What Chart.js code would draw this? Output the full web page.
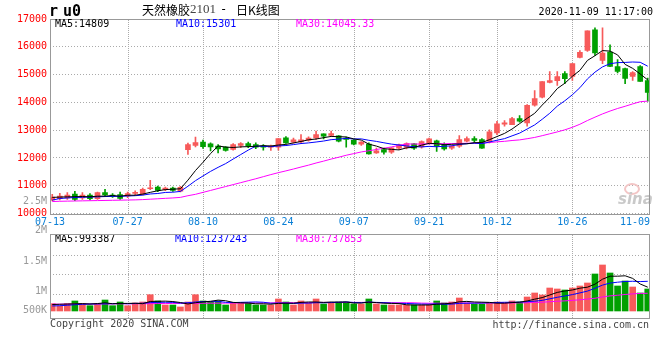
<!DOCTYPE html>
<html>
<head>
<meta charset="utf-8">
<script src="https://cdn.jsdelivr.net/npm/chart.js@4.4.1/dist/chart.umd.min.js"></script>
<style>
    html, body { margin: 0; padding: 0; background: #fff; }
    #wrap { position: relative; width: 660px; height: 360px; }
    canvas { position: absolute; left: 0; top: 0; }
</style>
</head>
<body>
<div id="wrap">
    <canvas id="kChart" width="660" height="360"></canvas>
    <canvas id="volChart" width="660" height="360"></canvas>
</div>
<script>
// Trading days shown (ru0, daily K)
const dates = [
    '07-13','07-14','07-15','07-16','07-17','07-20','07-21','07-22','07-23','07-24',
    '07-27','07-28','07-29','07-30','07-31','08-03','08-04','08-05','08-06','08-07',
    '08-10','08-11','08-12','08-13','08-14','08-17','08-18','08-19','08-20','08-21',
    '08-24','08-25','08-26','08-27','08-28','08-31','09-01','09-02','09-03','09-04',
    '09-07','09-08','09-09','09-10','09-11','09-14','09-15','09-16','09-17','09-18',
    '09-21','09-22','09-23','09-24','09-25','09-28','09-29','09-30','10-09','10-12',
    '10-13','10-14','10-15','10-16','10-19','10-20','10-21','10-22','10-23','10-26',
    '10-27','10-28','10-29','10-30','11-02','11-03','11-04','11-05','11-06','11-09'
];
const tickDates = ['07-13','07-27','08-10','08-24','09-07','09-21','10-12','10-26','11-09'];

// OHLC
const opens = [
    10485,10533,10557,10701,10557,10665,10533,10749,10665,10677,
    10629,10725,10689,10892,10952,10856,10916,10808,12293,12448,
    12570,12508,12430,12389,12305,12448,12520,12484,12424,12389,
    12389,12724,12568,12580,12640,12724,12867,12807,12796,12712,
    12639,12495,12495,12184,12303,12208,12351,12375,12507,12399,
    12519,12615,12459,12351,12423,12603,12699,12663,12591,12900,
    13213,13201,13417,13262,13896,14183,14722,14782,15033,14937,
    15619,15871,16613,15511,15811,15284,15212,14937,15284,14781
];
const closes = [
    10593,10629,10665,10509,10665,10533,10749,10665,10617,10545,
    10713,10749,10868,10928,10832,10916,10832,10940,12484,12556,
    12405,12395,12320,12269,12484,12520,12436,12389,12389,12412,
    12700,12544,12652,12652,12712,12843,12784,12879,12604,12664,
    12495,12567,12148,12256,12208,12363,12471,12519,12351,12591,
    12687,12423,12327,12423,12663,12699,12627,12351,12938,13230,
    13262,13417,13321,13896,14135,14745,14782,14925,14853,15392,
    15799,16577,15775,15775,15296,15117,14865,15069,14757,14362
];
const highs = [
    10689,10725,10749,10797,10749,10713,10773,10868,10713,10773,
    10773,10820,10916,11192,10988,10952,10952,10976,12532,12748,
    12640,12544,12480,12412,12520,12556,12568,12544,12484,12460,
    12700,12772,12712,12843,12760,12963,12867,12963,12807,12748,
    12660,12591,12543,12351,12351,12375,12495,12543,12519,12615,
    12711,12639,12543,12447,12806,12758,12770,12699,13010,13320,
    13345,13465,13525,13920,14422,14745,15104,15104,15104,15392,
    15859,16577,16685,16685,16074,15536,15236,15104,15320,14877
];
const lows = [
    10449,10485,10509,10461,10509,10485,10509,10641,10581,10509,
    10569,10665,10665,10856,10785,10820,10797,10773,12125,12400,
    12340,12250,12180,12245,12281,12365,12365,12329,12281,12269,
    12281,12520,12532,12544,12604,12664,12688,12772,12580,12389,
    12470,12447,12136,12160,12136,12160,12303,12327,12303,12351,
    12495,12232,12280,12303,12375,12579,12543,12339,12543,12840,
    13143,13201,13286,13143,13860,14159,14698,14614,14674,14794,
    15595,15835,15691,15392,15284,15057,14674,14794,14757,14039
];

// Price moving averages
const ma5 = [
    10580,10590,10600,10605,10612,10600,10624,10624,10646,10622,
    10658,10658,10698,10761,10818,10859,10875,10890,11201,11546,
    11843,12156,12432,12389,12375,12398,12406,12420,12444,12429,
    12465,12487,12539,12592,12652,12681,12729,12774,12764,12755,
    12685,12642,12496,12426,12335,12308,12289,12363,12382,12459,
    12524,12514,12476,12490,12505,12507,12548,12553,12656,12769,
    12882,13040,13234,13425,13606,13903,14176,14497,14688,14939,
    15150,15509,15679,15864,15844,15708,15366,15224,15021,14809
];
const ma10 = [
    10480,10540,10560,10575,10585,10590,10600,10610,10615,10617,
    10629,10641,10661,10703,10720,10758,10767,10794,10981,11182,
    11351,11516,11661,11795,11960,12121,12281,12426,12416,12402,
    12431,12446,12480,12518,12541,12573,12608,12657,12678,12703,
    12683,12685,12635,12595,12545,12497,12466,12430,12404,12397,
    12416,12402,12420,12436,12482,12515,12531,12514,12573,12637,
    12694,12794,12893,13040,13188,13392,13608,13865,14057,14273,
    14527,14843,15088,15276,15392,15429,15437,15452,15442,15301
];
const ma30 = [
    10430,10440,10445,10450,10455,10460,10465,10470,10475,10480,
    10485,10490,10500,10515,10530,10545,10560,10580,10640,10690,
    10760,10830,10900,10970,11040,11110,11180,11250,11325,11400,
    11470,11534,11601,11672,11740,11817,11885,11959,12025,12096,
    12155,12216,12258,12303,12349,12397,12451,12504,12500,12501,
    12510,12511,12511,12516,12522,12528,12535,12533,12552,12579,
    12598,12627,12649,12691,12738,12801,12868,12936,13011,13102,
    13212,13346,13467,13584,13687,13779,13859,13944,14024,14045
];

// Volume, in thousands
const volumes = [
    304,208,304,417,304,221,304,458,221,375,
    221,333,375,679,417,250,250,167,375,679,
    417,375,417,250,333,333,333,250,250,250,
    500,375,250,417,333,500,292,333,375,375,
    292,292,500,292,250,250,250,250,250,250,
    250,417,333,375,542,333,292,292,333,375,
    333,417,375,583,750,667,958,917,875,958,
    1042,1167,1542,1917,1583,1042,1250,1000,750,917
];
const volMa5 = [
    270,280,290,300,307,291,310,341,302,316,
    316,322,305,397,405,411,394,353,292,344,
    378,403,453,428,358,342,333,300,300,283,
    317,325,325,358,375,375,358,375,367,375,
    333,333,367,350,325,317,308,258,250,250,
    250,283,300,325,383,400,375,367,358,325,
    325,350,367,417,492,558,667,775,833,875,
    950,992,1117,1325,1450,1450,1467,1358,1125,993
];
const volMa10 = [
    210,220,240,260,280,290,295,300,305,312,
    303,316,323,349,360,363,358,329,344,375,
    394,398,403,360,351,360,368,376,364,321,
    329,329,312,329,329,346,342,350,363,375,
    354,346,371,358,350,325,321,313,300,288,
    283,296,279,288,317,325,329,333,342,354,
    363,363,367,388,408,442,508,571,625,683,
    754,829,946,1079,1163,1200,1229,1238,1225,1237
];
const volMa30 = [
    285,285,285,290,290,290,295,295,295,300,
    300,300,305,305,310,310,315,315,320,320,
    322,324,326,328,330,330,332,333,334,336,
    342,348,346,346,347,356,356,352,357,357,
    359,358,362,349,344,344,344,346,342,328,
    322,324,321,325,332,332,331,332,335,339,
    333,335,339,344,358,364,386,406,422,442,
    467,496,531,585,629,656,689,714,731,738
];

// Styling
const mono = '"DejaVu Sans Mono", "Liberation Mono", monospace';
const upColor = '#f75a5a';
const downColor = '#00a000';
const gridColor = '#aaaaaa';
const frameColor = '#999999';
const candleColors = closes.map((c, i) => c >= opens[i] ? upColor : downColor);

function xy(arr) {
    return arr.map((v, i) => ({ x: i, y: v }));
}

function maLine(arr, color) {
    return {
        type: 'line',
        data: xy(arr),
        borderColor: color,
        borderWidth: 1,
        pointRadius: 0,
        tension: 0
    };
}

// shared x axis: trading-day index
function dayAxis() {
    return {
        type: 'linear',
        offset: false,
        min: -0.3,
        max: dates.length - 0.7,
        ticks: { display: false },
        grid: { display: false, offset: false, drawTicks: false },
        border: { display: false },
        afterFit: s => { s.height = 0; }
    };
}

// vertical lines at the labelled dates (the two ends sit on the frame)
function drawDayGrid(chart) {
    const xs = chart.scales.x;
    const a = chart.chartArea;
    const ctx = chart.ctx;
    ctx.save();
    ctx.strokeStyle = gridColor;
    ctx.lineWidth = 1;
    ctx.setLineDash([1, 1]);
    tickDates.slice(1, -1).forEach(d => {
        const px = Math.round(xs.getPixelForValue(dates.indexOf(d))) + 0.5;
        ctx.beginPath();
        ctx.moveTo(px, a.top + 1);
        ctx.lineTo(px, a.bottom);
        ctx.stroke();
    });
    ctx.restore();
}

function drawFrame(chart) {
    const a = chart.chartArea;
    const ctx = chart.ctx;
    ctx.save();
    ctx.strokeStyle = frameColor;
    ctx.lineWidth = 1;
    ctx.strokeRect(Math.round(a.left) + 0.5, Math.round(a.top) + 0.5,
        Math.round(a.right - a.left) - 1, Math.round(a.bottom - a.top));
    ctx.restore();
}

function txt(ctx, s, x, y, color, align, font) {
    ctx.font = font || ('10px ' + mono);
    ctx.fillStyle = color;
    ctx.textAlign = align || 'left';
    ctx.textBaseline = 'middle';
    ctx.fillText(s, x, y);
}

// page text, frame and date labels for the price chart
const kDecor = {
    id: 'kDecor',
    beforeDatasetsDraw(chart) {
        drawDayGrid(chart);
    },
    afterDraw(chart) {
        const ctx = chart.ctx;
        const a = chart.chartArea;
        ctx.save();
        // sina watermark
        ctx.strokeStyle = '#f3c6c6';
        ctx.lineWidth = 2;
        ctx.beginPath();
        ctx.ellipse(632, 189, 7, 5, 0, 0, Math.PI * 2);
        ctx.stroke();
        txt(ctx, 'sina', 618, 200, '#c9c9c9', 'left', 'italic bold 15px "DejaVu Sans"');
        ctx.restore();

        drawFrame(chart);
        ctx.save();

        // header
        ['r', 'u', '0'].forEach((ch, k) => {
            txt(ctx, ch, [49, 63, 72][k], 12, '#000', 'left', 'bold 15px ' + mono);
        });
        let x = 142;
        const cjk = '12px "Noto Sans CJK SC"';
        txt(ctx, '天然橡胶', x, 10, '#000', 'left', cjk);
        x += ctx.measureText('天然橡胶').width;
        txt(ctx, '2101', x, 10, '#444', 'left', '13px "Liberation Serif"');
        x += ctx.measureText('2101').width + 4;
        txt(ctx, '-', x, 10, '#000', 'left', '12px ' + mono);
        x += 16;
        txt(ctx, '日K线图', x, 10, '#000', 'left', cjk);
        txt(ctx, '2020-11-09 11:17:00', 653, 12, '#000', 'right');

        // MA legends
        txt(ctx, 'MA5:14809', 55, 24, '#000');
        txt(ctx, 'MA10:15301', 176, 24, '#0000ff');
        txt(ctx, 'MA30:14045.33', 296, 24, '#ff00ff');
        txt(ctx, 'MA5:993387', 55, 239, '#000');
        txt(ctx, 'MA10:1237243', 175, 239, '#0000ff');
        txt(ctx, 'MA30:737853', 296, 239, '#ff00ff');

        // volume axis labels
        [['2.5M', 201], ['2M', 230], ['1.5M', 261], ['1M', 291], ['500K', 310]].forEach(l => {
            txt(ctx, l[0], 47, l[1], '#999', 'right');
        });

        // date labels under the price chart
        const xs = chart.scales.x;
        tickDates.forEach((d, k) => {
            const idx = dates.indexOf(d);
            if (k === 0) {
                txt(ctx, d, a.left, 222, '#0a7fd6', 'center');
            } else if (k === tickDates.length - 1) {
                txt(ctx, d, a.right, 222, '#0a7fd6', 'right');
            } else {
                txt(ctx, d, xs.getPixelForValue(idx), 222, '#0a7fd6', 'center');
            }
        });

        // footer
        txt(ctx, 'Copyright 2020 SINA.COM', 50, 324, '#444');
        txt(ctx, 'http://finance.sina.com.cn', 649, 325, '#444', 'right');
        ctx.restore();
    }
};

const volDecor = {
    id: 'volDecor',
    beforeDatasetsDraw(chart) { drawDayGrid(chart); },
    afterDraw(chart) { drawFrame(chart); }
};

Chart.defaults.font.family = mono;

new Chart(document.getElementById('kChart'), {
    type: 'bar',
    data: {
        datasets: [
            maLine(ma5, '#000000'),
            maLine(ma10, '#0000ff'),
            maLine(ma30, '#ff00ff'),
            {
                type: 'bar',
                data: opens.map((o, i) => ({ x: i, y: [o, closes[i]] })),
                backgroundColor: candleColors,
                barThickness: 5,
                minBarLength: 1,
                grouped: false
            },
            {
                type: 'bar',
                data: lows.map((l, i) => ({ x: i, y: [l, highs[i]] })),
                backgroundColor: candleColors,
                barThickness: 1,
                grouped: false
            }
        ]
    },
    options: {
        responsive: false,
        animation: false,
        events: [],
        layout: { padding: { top: 19, right: 10, bottom: 146.5, left: 0 } },
        plugins: { legend: { display: false }, tooltip: { enabled: false } },
        scales: {
            x: dayAxis(),
            y: {
                min: 10000,
                max: 17000,
                ticks: {
                    stepSize: 1000,
                    color: '#ff0000',
                    padding: 3,
                    font: { size: 10, family: mono },
                    callback: v => String(v)
                },
                grid: { drawTicks: false, color: gridColor },
                border: { display: false, dash: [1, 2] },
                afterFit: s => { s.width = 50; }
            }
        }
    },
    plugins: [kDecor]
});

// volume grid values (thousands)
const volGrid = [700, 1500, 2300];

new Chart(document.getElementById('volChart'), {
    type: 'bar',
    data: {
        datasets: [
            maLine(volMa5, '#000000'),
            maLine(volMa10, '#0000ff'),
            maLine(volMa30, '#ff00ff'),
            {
                type: 'bar',
                data: xy(volumes),
                backgroundColor: candleColors,
                barThickness: 6,
                grouped: false
            }
        ]
    },
    options: {
        responsive: false,
        animation: false,
        events: [],
        layout: { padding: { top: 234, right: 10, bottom: 42, left: 0 } },
        plugins: { legend: { display: false }, tooltip: { enabled: false } },
        scales: {
            x: dayAxis(),
            y: {
                min: -292,
                max: 3208,
                afterBuildTicks: s => { s.ticks = volGrid.map(v => ({ value: v })); },
                ticks: { display: false },
                grid: { drawTicks: false, color: gridColor },
                border: { display: false, dash: [1, 2] },
                afterFit: s => { s.width = 50; }
            }
        }
    },
    plugins: [volDecor]
});
</script>
</body>
</html>
